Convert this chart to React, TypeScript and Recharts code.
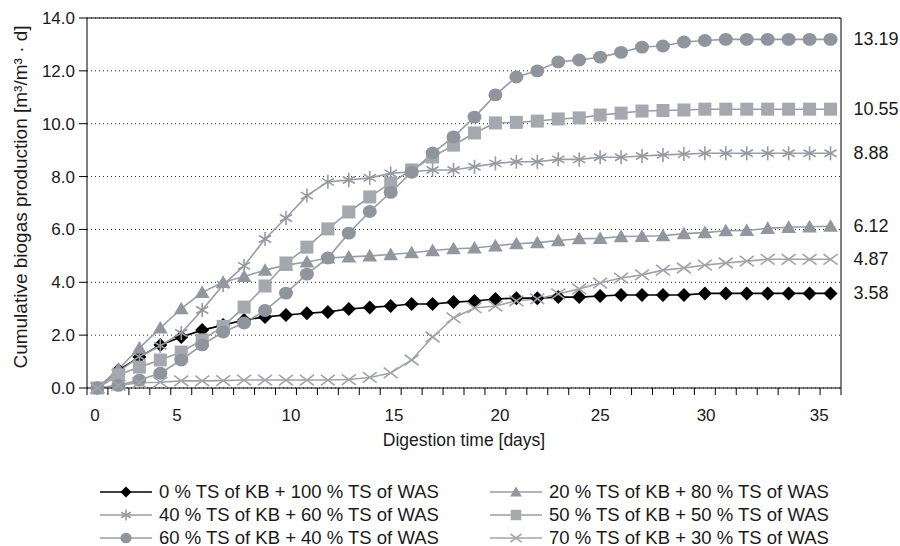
import React from "react";
import {
  CartesianGrid,
  LabelList,
  Legend,
  Line,
  LineChart,
  ReferenceLine,
  XAxis,
  YAxis,
} from "recharts";

// sample number (one point per day of digestion)
const days = [
  0, 1, 2, 3, 4, 5, 6, 7, 8, 9, 10, 11, 12, 13, 14, 15, 16, 17,
  18, 19, 20, 21, 22, 23, 24, 25, 26, 27, 28, 29, 30, 31, 32, 33, 34, 35,
];

const kb0 = [
  0, 0.68, 1.17, 1.63, 1.93, 2.19, 2.38, 2.57, 2.69, 2.76, 2.83, 2.88, 2.99, 3.05,
  3.1, 3.18, 3.18, 3.25, 3.29, 3.37, 3.4, 3.4, 3.44, 3.44, 3.48, 3.52, 3.52, 3.52,
  3.52, 3.58, 3.58, 3.58, 3.58, 3.58, 3.58, 3.58,
];
const kb20 = [
  0, 0.72, 1.51, 2.27, 3.0, 3.62, 4.0, 4.22, 4.46, 4.65, 4.77, 4.92, 4.96, 5.0,
  5.05, 5.12, 5.2, 5.27, 5.3, 5.38, 5.46, 5.5, 5.58, 5.65, 5.66, 5.73, 5.74, 5.76,
  5.84, 5.88, 5.95, 5.96, 6.04, 6.08, 6.1, 6.12,
];
const kb40 = [
  0, 0.62, 1.18, 1.6, 2.08, 2.95, 3.9, 4.62, 5.64, 6.43, 7.28, 7.8, 7.87, 7.95,
  8.12, 8.18, 8.25, 8.25, 8.37, 8.5, 8.56, 8.56, 8.65, 8.65, 8.73, 8.73, 8.78, 8.82,
  8.85, 8.88, 8.88, 8.88, 8.88, 8.88, 8.88, 8.88,
];
const kb50 = [
  0, 0.49, 0.79, 1.06, 1.36, 1.82, 2.33, 3.06, 3.86, 4.73, 5.33, 6.02, 6.66, 7.23,
  7.76, 8.25, 8.74, 9.19, 9.65, 10.03, 10.05, 10.1, 10.18, 10.22, 10.33, 10.4, 10.48,
  10.5, 10.52, 10.55, 10.55, 10.55, 10.55, 10.55, 10.55, 10.55,
];
const kb60 = [
  0, 0.1, 0.3, 0.56, 1.06, 1.63, 2.12, 2.46, 2.93, 3.59, 4.31, 4.92, 5.86, 6.68,
  7.4, 8.17, 8.89, 9.5, 10.25, 11.09, 11.77, 12.0, 12.34, 12.41, 12.52, 12.7, 12.9,
  12.94, 13.09, 13.15, 13.19, 13.19, 13.19, 13.19, 13.19, 13.19,
];
const kb70 = [
  0, 0.1, 0.2, 0.22, 0.27, 0.27, 0.28, 0.3, 0.3, 0.3, 0.3, 0.3, 0.32, 0.4,
  0.57, 1.06, 1.93, 2.65, 3.03, 3.1, 3.3, 3.37, 3.56, 3.75, 3.97, 4.16, 4.28, 4.46,
  4.54, 4.65, 4.73, 4.8, 4.87, 4.87, 4.87, 4.87,
];

const seriesNames = [
  "0 % TS of KB + 100 % TS of WAS",
  "20 % TS of KB + 80 % TS of WAS",
  "40 % TS of KB + 60 % TS of WAS",
  "50 % TS of KB + 50 % TS of WAS",
  "60 % TS of KB + 40 % TS of WAS",
  "70 % TS of KB + 30 % TS of WAS",
];

const xTickLabels = ["0", "5", "10", "15", "20", "25", "30", "35"];
// where the day labels sit along the sample axis
const xTickSpots = [-0.12, 3.8, 9.24, 14.16, 19.22, 24.0, 29.06, 34.46];
const yTicks = [0, 2, 4, 6, 8, 10, 12, 14];

const FONT = "'Liberation Sans', Arial, sans-serif";
const TEXT = "#1a1a1a";

const rows = days.map((d, i) => ({
  day: d,
  kb0: kb0[i],
  kb20: kb20[i],
  kb40: kb40[i],
  kb50: kb50[i],
  kb60: kb60[i],
  kb70: kb70[i],
}));

type Shape = "diamond" | "triangle" | "star" | "square" | "circle" | "cross";

const series: { key: string; name: string; shape: Shape; fill: string; stroke: string }[] = [
  { key: "kb0", name: seriesNames[0], shape: "diamond", fill: "#000000", stroke: "#000000" },
  { key: "kb20", name: seriesNames[1], shape: "triangle", fill: "#92969e", stroke: "#9a9da4" },
  { key: "kb40", name: seriesNames[2], shape: "star", fill: "#9599a1", stroke: "#9a9da4" },
  { key: "kb50", name: seriesNames[3], shape: "square", fill: "#a5a8ae", stroke: "#9a9da4" },
  { key: "kb60", name: seriesNames[4], shape: "circle", fill: "#90949c", stroke: "#9a9da4" },
  { key: "kb70", name: seriesNames[5], shape: "cross", fill: "#a0a3aa", stroke: "#a0a3aa" },
];

function Marker({ cx, cy, shape, fill, s = 1 }: { cx: number; cy: number; shape: Shape; fill: string; s?: number }) {
  if (cx == null || cy == null) return null;
  const r = 7 * s;
  switch (shape) {
    case "diamond":
      return <path d={`M${cx},${cy - r}L${cx + r},${cy}L${cx},${cy + r}L${cx - r},${cy}Z`} fill={fill} />;
    case "triangle":
      return (
        <path
          d={`M${cx},${cy - r}L${cx + r * 1.05},${cy + r * 0.8}L${cx - r * 1.05},${cy + r * 0.8}Z`}
          fill={fill}
        />
      );
    case "square":
      return <rect x={cx - r * 0.93} y={cy - r * 0.93} width={r * 1.86} height={r * 1.86} fill={fill} />;
    case "circle":
      return <ellipse cx={cx} cy={cy} rx={r} ry={r * 0.92} fill={fill} />;
    case "star":
      return (
        <g stroke={fill} strokeWidth={1.6}>
          <line x1={cx} y1={cy - r} x2={cx} y2={cy + r} />
          <line x1={cx - r * 0.87} y1={cy - r * 0.5} x2={cx + r * 0.87} y2={cy + r * 0.5} />
          <line x1={cx - r * 0.87} y1={cy + r * 0.5} x2={cx + r * 0.87} y2={cy - r * 0.5} />
        </g>
      );
    case "cross":
      return (
        <g stroke={fill} strokeWidth={1.6}>
          <line x1={cx - r} y1={cy - r * 0.75} x2={cx + r} y2={cy + r * 0.75} />
          <line x1={cx - r} y1={cy + r * 0.75} x2={cx + r} y2={cy - r * 0.75} />
        </g>
      );
  }
  return null;
}

const lastIndex = days.length - 1;

const EndLabel = (props: any) => {
  const { x, y, value, index } = props;
  if (index !== lastIndex) return null;
  return (
    <text x={x + 23} y={y} dy={6} fill={TEXT} fontSize={18} fontFamily={FONT}>
      {Number(value).toFixed(2)}
    </text>
  );
};

const DayTick = (props: any) => {
  const { x, y, payload } = props;
  const i = xTickSpots.indexOf(payload.value);
  if (i >= 0) {
    return (
      <text x={x} y={y} dy={13} textAnchor="middle" fill={TEXT} fontSize={17} fontFamily={FONT}>
        {xTickLabels[i]}
      </text>
    );
  }
  // plain tick mark between samples
  return <line x1={x} y1={y - 20} x2={x} y2={y - 13} stroke="#000" />;
};

const YLabel = (props: any) => {
  const { viewBox } = props;
  const cy = viewBox.y + viewBox.height / 2;
  return (
    <text
      transform={`translate(20, ${cy - 6}) rotate(-90)`}
      textAnchor="middle"
      dominantBaseline="central"
      fill={TEXT}
      fontSize={19}
      fontFamily={FONT}
    >
      Cumulative biogas production [m³/m³ · d]
    </text>
  );
};

const renderLegend = () => (
  <div
    style={{
      display: "grid",
      gridTemplateColumns: "390px 350px",
      fontFamily: FONT,
      fontSize: 18.5,
      color: TEXT,
    }}
  >
    {series.map((s) => (
      <div key={s.key} style={{ display: "flex", alignItems: "center", height: 23 }}>
        <svg width={52} height={16} style={{ flex: "none" }}>
          <line x1={0} y1={8} x2={52} y2={8} stroke={s.stroke} strokeWidth={1.5} />
          <Marker cx={26} cy={8} shape={s.shape} fill={s.fill} s={0.8} />
        </svg>
        <span style={{ marginLeft: 7, whiteSpace: "nowrap" }}>{s.name}</span>
      </div>
    ))}
  </div>
);

const allXTicks = [...days.map((d) => d - 0.5), lastIndex + 0.5, ...xTickSpots].sort((a, b) => a - b);

export default function App() {
  return (
    <div style={{ position: "absolute", left: 0, top: 0, background: "#fff" }}>
      <LineChart
        width={900}
        height={546}
        data={rows}
        margin={{ top: 18, right: 59, bottom: 98, left: 0 }}
        style={{ fontFamily: FONT }}
      >
        <CartesianGrid vertical={false} stroke="#222" strokeDasharray="1 3" />
        <XAxis
          dataKey="day"
          type="number"
          domain={[-0.5, lastIndex + 0.5]}
          ticks={allXTicks}
          interval={0}
          tick={<DayTick />}
          tickLine={false}
          tickSize={7}
          tickMargin={13}
          height={60}
          stroke="#000"
          label={{
            value: "Digestion time [days]",
            position: "insideBottom",
            offset: 2,
            fill: TEXT,
            fontSize: 17.5,
            fontFamily: FONT,
          }}
        />
        <YAxis
          domain={[0, 14]}
          ticks={yTicks}
          interval={0}
          width={87}
          tickSize={8}
          tickMargin={4}
          stroke="#000"
          tickFormatter={(v: number) => v.toFixed(1)}
          tick={{ fill: TEXT, fontSize: 17, fontFamily: FONT }}
          label={<YLabel />}
        />
        <ReferenceLine y={14} stroke="#000" />
        <ReferenceLine x={lastIndex + 0.5} stroke="#000" />
        <Legend
          verticalAlign="middle"
          align="center"
          content={renderLegend}
          wrapperStyle={{ top: 480, left: 100, width: 760 }}
        />
        {series.map((s) => (
          <Line
            key={s.key}
            dataKey={s.key}
            name={s.name}
            type="linear"
            stroke={s.stroke}
            strokeWidth={1.6}
            isAnimationActive={false}
            activeDot={false}
            dot={(p: any) => (
              <Marker key={`${s.key}-${p.index}`} cx={p.cx} cy={p.cy} shape={s.shape} fill={s.fill} />
            )}
          >
            <LabelList dataKey={s.key} content={<EndLabel />} />
          </Line>
        ))}
      </LineChart>
    </div>
  );
}
